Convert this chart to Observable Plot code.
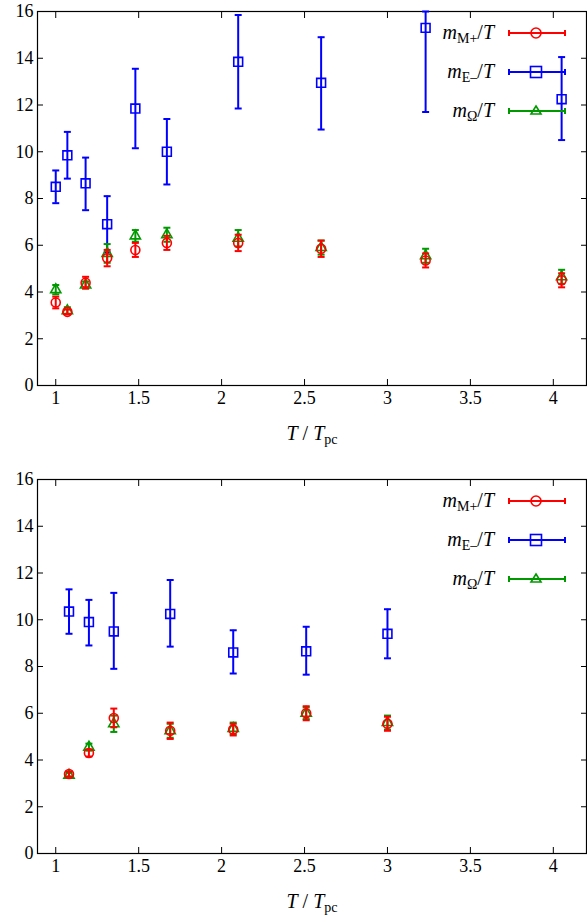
<!DOCTYPE html>
<html>
<head>
<meta charset="utf-8">
<script src="https://cdn.jsdelivr.net/npm/d3@7"></script>
<script src="https://cdn.jsdelivr.net/npm/@observablehq/plot@0.6"></script>
<style>
  body { margin: 0; background: #fff; font-family: 'Liberation Serif', serif; }
  .panel { position: relative; width: 587px; }
  .xlab { position: absolute; left: 0; width: 587px; text-align: center; font-size: 20px; padding-left: 37px; box-sizing: border-box; }
  .legend { position: absolute; left: 380px; font-size: 20px; }
  .legend .row { position: absolute; left: 0; width: 186px; height: 30px; }
  .legend .lab { position: absolute; right: 72px; top: 0; white-space: nowrap; }
  .legend svg { position: absolute; right: 0; top: 4px; }
  i { font-style: italic; }
  sub { font-size: 14px; font-style: normal; vertical-align: -4px; line-height: 0; }
</style>
</head>
<body>
<div id="top" class="panel"></div>
<div id="bottom" class="panel"></div>
<script>
// ---- data: top panel ----
const topT     = [1.00, 1.07, 1.18, 1.31, 1.48, 1.67, 2.10, 2.60, 3.23, 4.05];
const topE     = [8.5, 9.85, 8.65, 6.9, 11.85, 10.0, 13.85, 12.95, 15.3, 12.25];
const topELo   = [7.8, 8.85, 7.5, 5.7, 10.15, 8.6, 11.85, 10.95, 11.7, 10.5];
const topEHi   = [9.2, 10.85, 9.75, 8.1, 13.55, 11.4, 15.85, 14.9, 16.0, 14.05];
const topM     = [3.55, 3.15, 4.4, 5.45, 5.8, 6.1, 6.1, 5.85, 5.35, 4.5];
const topMErr  = [0.25, 0.1, 0.25, 0.35, 0.3, 0.3, 0.35, 0.35, 0.3, 0.3];
const topO     = [4.1, 3.2, 4.3, 5.65, 6.4, 6.45, 6.3, 5.9, 5.55, 4.65];
const topOErr  = [0.2, 0.15, 0.15, 0.4, 0.25, 0.3, 0.35, 0.3, 0.3, 0.3];

// ---- data: bottom panel ----
const botT     = [1.08, 1.20, 1.35, 1.69, 2.07, 2.51, 3.00];
const botE     = [10.35, 9.9, 9.5, 10.25, 8.6, 8.65, 9.4];
const botELo   = [9.4, 8.9, 7.9, 8.85, 7.7, 7.65, 8.35];
const botEHi   = [11.3, 10.85, 11.15, 11.7, 9.55, 9.7, 10.45];
const botM     = [3.4, 4.3, 5.8, 5.25, 5.3, 6.0, 5.55];
const botMErr  = [0.1, 0.15, 0.4, 0.35, 0.25, 0.3, 0.3];
const botO     = [3.35, 4.55, 5.55, 5.25, 5.35, 6.0, 5.6];
const botOErr  = [0.1, 0.15, 0.35, 0.3, 0.25, 0.25, 0.3];

const xTicks = [1, 1.5, 2, 2.5, 3, 3.5, 4];
const yTicks = [0, 2, 4, 6, 8, 10, 12, 14, 16];
const RED = '#ff0000', BLUE = '#0000ff', GREEN = '#009900';

// horizontal cap symbol for error bars
const capSymbol = { draw(ctx, size) { const w = 3.5; ctx.moveTo(-w, 0); ctx.lineTo(w, 0); } };

function build(T, E, ELo, EHi, M, MErr, O, OErr) {
  const e = T.map((t, i) => ({ t, v: E[i], lo: ELo[i], hi: EHi[i] }));
  const m = T.map((t, i) => ({ t, v: M[i], lo: M[i] - MErr[i], hi: M[i] + MErr[i] }));
  const o = T.map((t, i) => ({ t, v: O[i], lo: O[i] - OErr[i], hi: O[i] + OErr[i] }));
  return { e, m, o };
}

function series(d, color, symbol, r) {
  return [
    Plot.ruleX(d, { x: 't', y1: 'lo', y2: 'hi', stroke: color, strokeWidth: 2 }),
    Plot.dot(d, { x: 't', y: 'lo', symbol: capSymbol, stroke: color, strokeWidth: 2, r: 3 }),
    Plot.dot(d, { x: 't', y: 'hi', symbol: capSymbol, stroke: color, strokeWidth: 2, r: 3 }),
    Plot.dot(d, { x: 't', y: 'v', symbol, stroke: color, strokeWidth: 1.6, fill: 'none', r })
  ];
}

function panel(el, height, mb, d) {
  const chart = Plot.plot({
    width: 587, height, marginTop: 11, marginLeft: 37, marginRight: 1, marginBottom: mb,
    style: { fontFamily: "'Liberation Serif', serif", fontSize: '18px', color: '#000', background: '#fff' },
    x: { domain: [0.89, 4.2], label: null },
    y: { domain: [0, 16], label: null },
    marks: [
      Plot.frame({ stroke: '#000', strokeWidth: 1.2 }),
      Plot.axisX(xTicks, { anchor: 'bottom', tickSize: -6, tickPadding: 12, fontSize: 18, tickFormat: d => String(d) }),
      Plot.axisX(xTicks, { anchor: 'top', tickSize: -6, tickFormat: () => '' }),
      Plot.axisY(yTicks, { anchor: 'left', tickSize: -6, tickPadding: 10, fontSize: 18 }),
      Plot.axisY(yTicks, { anchor: 'right', tickSize: -6, tickFormat: () => '' }),
      ...series(d.e, BLUE, 'square', 5),
      ...series(d.o, GREEN, 'triangle', 3.8),
      ...series(d.m, RED, 'circle', 4.5)
    ]
  });
  el.appendChild(chart);
}

function legend(el, top) {
  const items = [
    { html: '<i>m</i><sub>M+</sub>/<i>T</i>', c: RED, s: '<circle cx="28" cy="8" r="5" fill="none" stroke="' + RED + '" stroke-width="1.6"/>' },
    { html: '<i>m</i><sub>E–</sub>/<i>T</i>', c: BLUE, s: '<rect x="22.5" y="2.5" width="11" height="11" fill="none" stroke="' + BLUE + '" stroke-width="1.6"/>' },
    { html: '<i>m</i><sub>Ω</sub>/<i>T</i>', c: GREEN, s: '<path d="M28,3 L33,11 L23,11 Z" fill="none" stroke="' + GREEN + '" stroke-width="1.6"/>' }
  ];
  const div = document.createElement('div');
  div.className = 'legend';
  div.style.top = top + 'px';
  items.forEach((it, i) => {
    const row = document.createElement('div');
    row.className = 'row';
    row.style.top = (i * 39) + 'px';
    row.innerHTML = '<span class="lab">' + it.html + '</span>' +
      '<svg width="58" height="16"><line x1="1" y1="8" x2="57" y2="8" stroke="' + it.c + '" stroke-width="2"/>' +
      '<line x1="1" y1="5" x2="1" y2="11" stroke="' + it.c + '" stroke-width="2"/>' +
      '<line x1="57" y1="5" x2="57" y2="11" stroke="' + it.c + '" stroke-width="2"/>' + it.s + '</svg>';
    div.appendChild(row);
  });
  el.appendChild(div);
}

function xlabel(el, top) {
  const d = document.createElement('div');
  d.className = 'xlab';
  d.style.top = top + 'px';
  d.innerHTML = '<i>T</i> / <i>T</i><sub>pc</sub>';
  el.appendChild(d);
}

const topEl = document.getElementById('top');
panel(topEl, 468, 83, build(topT, topE, topELo, topEHi, topM, topMErr, topO, topOErr));
legend(topEl, 21);
xlabel(topEl, 422);

const botEl = document.getElementById('bottom');
panel(botEl, 453, 68, build(botT, botE, botELo, botEHi, botM, botMErr, botO, botOErr));
legend(botEl, 21);
xlabel(botEl, 422);
</script>
</body>
</html>
